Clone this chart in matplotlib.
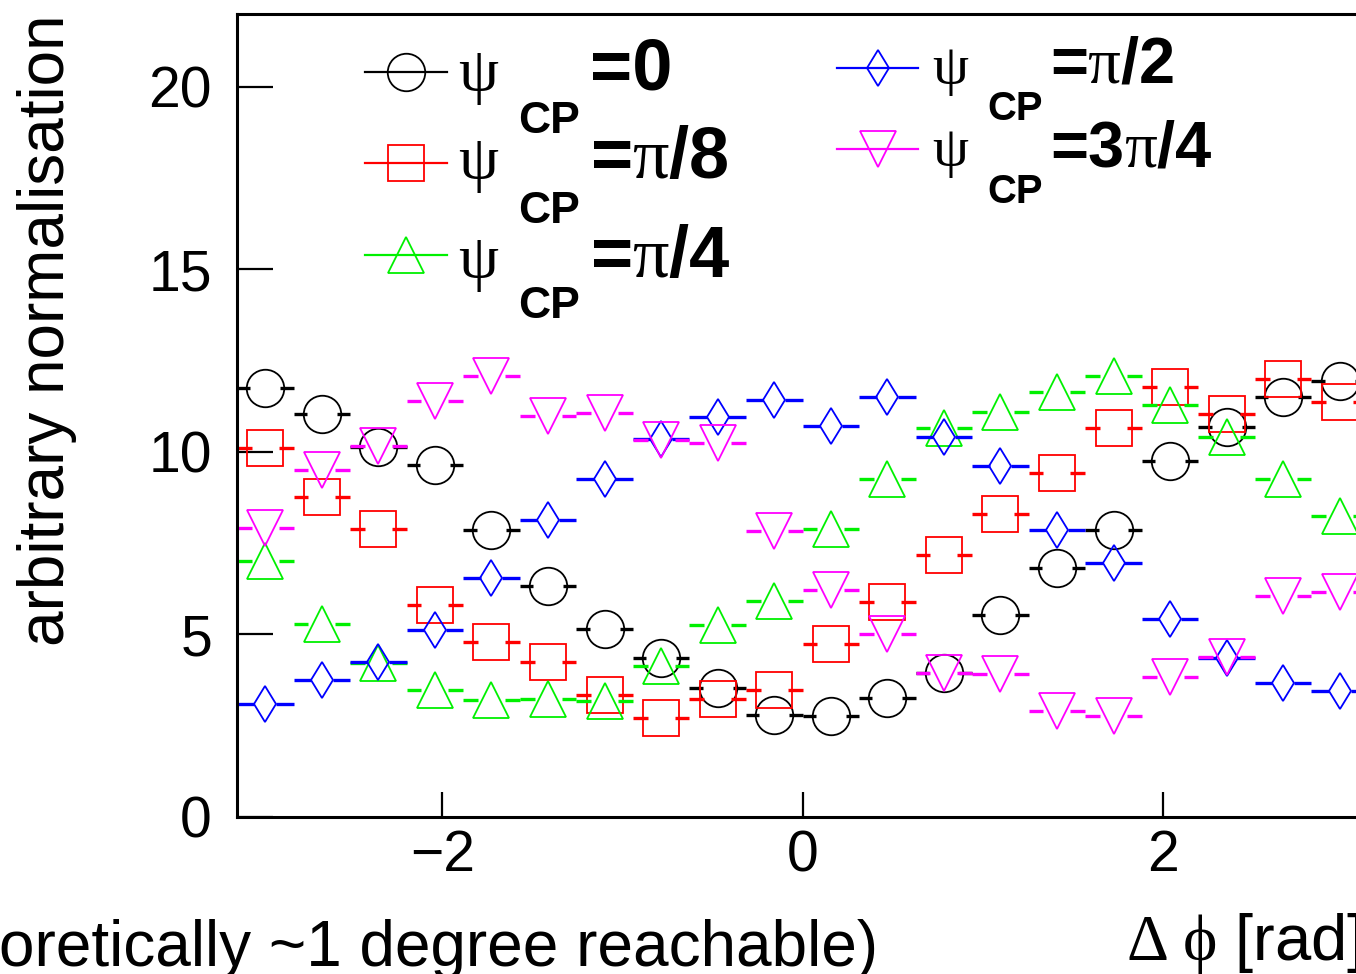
import numpy as np
import matplotlib
matplotlib.use("Agg")
import matplotlib.pyplot as plt
from matplotlib.lines import Line2D

plt.rcParams['font.family'] = ['Liberation Sans', 'DejaVu Sans']
plt.rcParams['mathtext.fontset'] = 'custom'
plt.rcParams['mathtext.rm'] = 'Liberation Serif'
plt.rcParams['mathtext.it'] = 'Liberation Serif'
plt.rcParams['mathtext.bf'] = 'Liberation Sans:bold'
plt.rcParams['mathtext.sf'] = 'Liberation Sans'

# 20 bins in delta phi over [-pi, pi]
nbins = 20
edges = np.linspace(-np.pi, np.pi, nbins + 1)
centers = 0.5 * (edges[1:] + edges[:-1])
half_width = 0.5 * (edges[1] - edges[0])

psi_0 = [11.76, 11.04, 10.14, 9.64, 7.86, 6.33, 5.14, 4.36, 3.54, 2.79,
         2.77, 3.25, 3.93, 5.53, 6.81, 7.86, 9.76, 10.69, 11.51, 11.93]
psi_pi8 = [10.10, 8.76, 7.88, 5.81, 4.78, 4.23, 3.34, 2.70, 3.23, 3.46,
           4.73, 5.88, 7.18, 8.30, 9.43, 10.66, 11.77, 11.04, 12.00, 11.36]
psi_pi4 = [7.02, 5.27, 4.21, 3.48, 3.20, 3.23, 3.18, 4.12, 5.26, 5.90,
           7.88, 9.25, 10.65, 11.08, 11.65, 12.09, 11.29, 10.42, 9.25, 8.24]
psi_pi2 = [3.08, 3.75, 4.25, 5.12, 6.55, 8.13, 9.25, 10.34, 10.96, 11.42,
           10.71, 11.50, 10.40, 9.60, 7.86, 6.95, 5.41, 4.36, 3.66, 3.45]
psi_3pi4 = [7.91, 9.50, 10.16, 11.38, 12.09, 10.98, 11.07, 10.33, 10.23, 7.83,
            6.22, 5.01, 3.95, 3.90, 2.90, 2.77, 3.84, 4.39, 6.06, 6.17]

# (values, colour, marker, markersize, gap to marker edge in rad)
series = [
    (psi_0,    '#000000', 'o', 27.0, 0.083),
    (psi_pi8,  '#ff0000', 's', 26.5, 0.075),
    (psi_pi4,  '#00f000', '^', 26.5, 0.075),
    (psi_pi2,  '#0000ff', 'd', 18.5, 0.060),
    (psi_3pi4, '#ff00ff', 'v', 26.5, 0.075),
]

W, H = 1356, 974
fig = plt.figure(figsize=(W / 100, H / 100), dpi=100)
ax = fig.add_axes([237 / W, (H - 816.7) / H, 1131 / W, 802.7 / H])

for vals, col, mk, ms, gap in series:
    vals = np.asarray(vals)
    ax.hlines(vals, centers - half_width, centers - gap, colors=col, lw=2.4)
    ax.hlines(vals, centers + gap, centers + half_width, colors=col, lw=2.4)
    ax.plot(centers, vals, ls='none', marker=mk, ms=ms, mfc='none',
            mec=col, mew=1.3)

ax.set_xlim(-np.pi, np.pi)
ax.set_ylim(0, 22)
ax.set_xticks([-2, 0, 2])
ax.set_yticks([0, 5, 10, 15, 20])
ax.tick_params(axis='both', direction='in', labelsize=41, width=1.6)
ax.tick_params(axis='y', length=26, pad=18)
ax.tick_params(axis='x', length=18, pad=9)
for sp in ax.spines.values():
    sp.set_linewidth(2.2)


def px(x, y):
    return x / W, 1 - y / H


# axis titles
fig.text(*px(47, 15), 'arbitrary normalisation', rotation=90,
         ha='center', va='top', fontsize=46)
fig.text(*px(1362, 960), r'$\Delta\;\phi$ [rad]', ha='right',
         va='baseline', fontsize=47)
fig.text(*px(878, 966), '(theoretically ~1 degree reachable)', ha='right',
         va='baseline', fontsize=46)

# legend: key line + marker, then psi, CP subscript and value
legend_rows = [
    (0, 365, 447, 72, 458, 91, 518, 133, 590, 89, '=0', 1.0),
    (1, 365, 447, 163, 458, 179, 518, 223, 590, 178, r'=$\pi$/8', 1.0),
    (2, 365, 447, 255, 458, 278, 518, 318, 590, 277, r'=$\pi$/4', 1.0),
    (3, 837, 918, 68, 932, 84, 987, 120, 1050, 83, r'=$\pi$/2', 0.9),
    (4, 837, 918, 149, 932, 166, 987, 203, 1050, 167, r'=3$\pi$/4', 0.9),
]
for i, x0, x1, ky, psx, psy, cpx, cpy, vx, vy, label, sc in legend_rows:
    _, col, mk, ms, _ = series[i]
    a0, b0 = px(x0, ky)
    a1, _ = px(x1, ky)
    fig.add_artist(Line2D([a0, a1], [b0, b0], color=col, lw=1.6,
                          transform=fig.transFigure))
    fig.add_artist(Line2D([(a0 + a1) / 2], [b0], ls='none', marker=mk,
                          ms=ms, mfc='none', mec=col, mew=1.3,
                          transform=fig.transFigure))
    fig.text(*px(psx, psy), 'ψ', family=['Liberation Serif'],
             fontsize=46 * sc, va='baseline')
    fig.text(*px(cpx, cpy), 'CP', fontweight='bold', fontsize=32 * sc,
             va='baseline')
    fig.text(*px(vx, vy), label, fontweight='bold', fontsize=52 * sc,
             va='baseline')

fig.savefig('out.png', dpi=100)
